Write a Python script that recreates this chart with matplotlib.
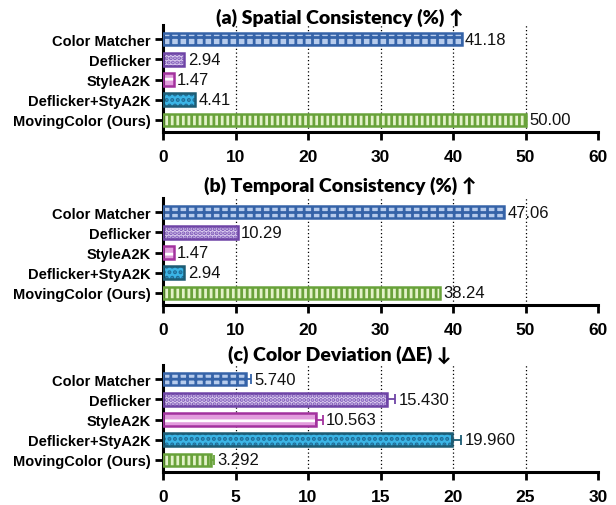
"""
Three-panel horizontal bar comparison: spatial consistency, temporal
consistency and colour deviation for five colourisation methods.
"""

import matplotlib
matplotlib.use("Agg")
import matplotlib.pyplot as plt

METHODS = ["Color Matcher", "Deflicker", "StyleA2K", "Deflicker+StyA2K",
           "MovingColor (Ours)"]

SPATIAL = [41.18, 2.94, 1.47, 4.41, 50.00]
TEMPORAL = [47.06, 10.29, 1.47, 2.94, 38.24]
DELTA_E = [5.740, 15.430, 10.563, 19.960, 3.292]
DELTA_E_ERR = [0.30, 0.57, 0.45, 0.60, 0.20]

TITLES = ["(a) Spatial Consistency (%) \u2191",
          "(b) Temporal Consistency (%) \u2191",
          "(c) Color Deviation (\u0394E) \u2193"]

# per-method styling: outline, fill, hatch colour, hatch pattern
EDGE = ["#3563a8", "#6e44a6", "#a3329e", "#1d5c74", "#68a23a"]
FILL = ["#b6cbec", "#dccdf0", "#e29ddd", "#3bb5e6", "#e3f2c9"]
HATCH_COL = ["#3563a8", "#7a55b5", "#ffffff", "#1f6c96", "#6aa23a"]
HATCH = ["++", "....", "--", "...", "|||"]

plt.rcParams["font.family"] = ["Liberation Sans", "DejaVu Sans"]
plt.rcParams["hatch.linewidth"] = 2.0

fig = plt.figure(figsize=(6.16, 5.06), dpi=100)

W, H = 616, 506
LEFT, RIGHT = 163, 598
PANELS = [  # (top px, bottom px)
    (26, 133),
    (199, 306),
    (366, 473),
]
TITLE_Y = [18, 186, 355]


def draw_panel(ax, values, xmax, step, fmt, errs=None):
    y = list(range(len(values)))
    for i, v in enumerate(values):
        # hatched body first, then a clean outline on top
        ax.barh(i, v, height=0.62, color=FILL[i], edgecolor=HATCH_COL[i],
                hatch=HATCH[i], linewidth=0, zorder=2)
        ax.barh(i, v, height=0.62, color="none", edgecolor=EDGE[i],
                linewidth=1.8, zorder=3)
        end = v
        if errs is not None:
            ax.errorbar(v, i, xerr=[[0], [errs[i]]], fmt="none",
                        ecolor=EDGE[i], elinewidth=1.3, capsize=3.5,
                        capthick=1.3, zorder=4)
            end = v + errs[i]
        ax.annotate(fmt.format(v), (end, i), xytext=(2.5, 0),
                    textcoords="offset points", va="center", ha="left",
                    fontsize=12, color="#111111")

    ax.set_xlim(0, xmax)
    ax.set_ylim(4.6, -0.7)
    ax.set_xticks(range(0, xmax + 1, step))
    ax.set_xticklabels([str(t) for t in range(0, xmax + 1, step)],
                       fontsize=12.5, fontweight="bold")
    ax.set_yticks(y)
    ax.set_yticklabels(METHODS, fontsize=10.5, fontweight="bold")
    for x in range(step, xmax, step):
        ax.axvline(x, color="black", linestyle=(0, (1, 2)), linewidth=0.9,
                   zorder=1)
    for side in ("top", "right"):
        ax.spines[side].set_visible(False)
    for side in ("left", "bottom"):
        ax.spines[side].set_linewidth(2.2)
    ax.tick_params(axis="both", length=6, width=2, pad=3)
    ax.tick_params(axis="x", pad=6)


data = [(SPATIAL, 60, 10, "{:.2f}", None),
        (TEMPORAL, 60, 10, "{:.2f}", None),
        (DELTA_E, 30, 5, "{:.3f}", DELTA_E_ERR)]

for (top, bottom), ty, title, (vals, xmax, step, fmt, errs) in zip(
        PANELS, TITLE_Y, TITLES, data):
    ax = fig.add_axes([LEFT / W, 1 - bottom / H, (RIGHT - LEFT) / W,
                       (bottom - top) / H])
    draw_panel(ax, vals, xmax, step, fmt, errs)
    fig.text(340 / W, 1 - ty / H, title, ha="center", va="center",
             fontsize=14, fontweight="heavy", family=["Lato", "DejaVu Sans"])

fig.savefig("out.png", dpi=100)
